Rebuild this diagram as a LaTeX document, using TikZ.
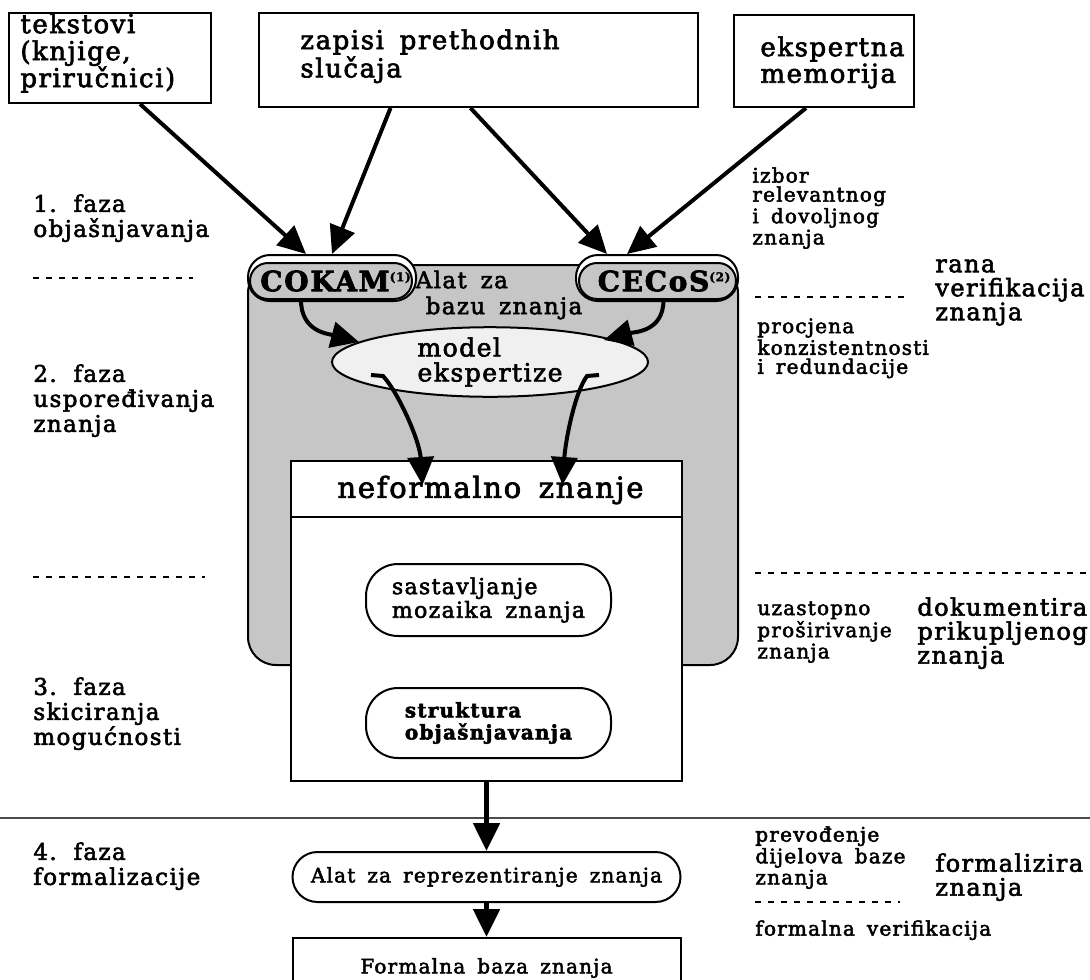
\documentclass[tikz,border=0pt]{standalone}
\usepackage{fontspec}
\setmainfont{DejaVu Serif}[LetterSpace=6,WordSpace=1.6,FakeBold=2.5]
\usetikzlibrary{positioning,calc,arrows.meta,shapes.geometric}

\begin{document}
\begin{tikzpicture}[x=0.5pt, y=-0.5pt,
    box/.style={draw, line width=1pt, inner sep=0pt, anchor=north west},
    pill/.style={draw, line width=1pt, inner sep=0pt, align=left},
    txt/.style={align=left, inner sep=0pt, anchor=north west, font=\fontsize{11.5}{12.5}\selectfont},
    note/.style={txt, font=\fontsize{10}{9.5}\selectfont},
    big/.style={txt, font=\fontsize{12}{12}\selectfont},
    phase/.style={dash pattern=on 3pt off 3.5pt, line width=0.7pt},
    flow/.style={-{Triangle[length=14pt,width=13pt]}, line width=2pt},
    shade/.style={fill=gray!45}]

  \useasboundingbox (0,0) rectangle (1090,979);

  % sources
  \node[box, minimum width=101pt, minimum height=45pt] (tekst) at (8,12) {};
  \node[txt, font=\fontsize{13}{13.5}\selectfont] (tekstT) at (20,13) {tekstovi\\(knjige,\\priručnici)};
  \node[box, minimum width=219.5pt, minimum height=47pt] (zapisi) at (258,12) {};
  \node[txt, font=\fontsize{13}{12}\selectfont] (zapisiT) at (300,29) {zapisi prethodnih\\slučaja};
  \node[box, minimum width=90pt, minimum height=46pt] (ekspert) at (733,14) {};
  \node[txt, font=\fontsize{13}{12}\selectfont] (ekspertT) at (760,36) {ekspertna\\memorija};

  % phases
  \node[txt] (faza1) at (33,194) {1. faza\\objašnjavanja};
  \node[txt] (faza2) at (33,364) {2. faza\\uspoređivanja\\znanja};
  \node[txt] (faza3) at (33,677) {3. faza\\skiciranja\\mogućnosti};
  \node[txt] (faza4) at (33,842) {4. faza\\formalizacije};
  \draw[phase] (33,278) -- (193,278);
  \draw[phase] (33,577) -- (205,577);
  \draw[line width=0.6pt, black!70] (0,818) -- (1090,818);

  % knowledge base tool
  \node[draw, line width=1pt, shade, rounded corners=14pt, minimum width=245pt, minimum height=200pt, anchor=north west] (alat) at (247,264) {};
  \node[draw, line width=1pt, fill=white, rounded corners=11pt, minimum width=84pt, minimum height=23pt, anchor=north west] (cokamtab) at (247,254) {};
  \node[draw, line width=1pt, fill=white, rounded corners=11pt, minimum width=81pt, minimum height=23pt, anchor=north west] (cecostab) at (575,254) {};
  \node[pill, shade, rounded corners=9pt, minimum width=81pt, minimum height=18pt, anchor=north west,
        font=\fontsize{14}{14}\selectfont\bfseries] (cokam) at (249,262)
        {COKAM\rlap{\raisebox{5pt}{\fontsize{6}{6}\selectfont(1)}}\hspace*{6pt}};
  \node[pill, shade, rounded corners=9pt, minimum width=78.5pt, minimum height=18pt, anchor=north west,
        font=\fontsize{14}{14}\selectfont\bfseries] (cecos) at (578,262)
        {CECoS\rlap{\raisebox{5pt}{\fontsize{6}{6}\selectfont(2)}}\hspace*{4pt}};
  \node[align=left, inner sep=0pt, font=\fontsize{11.5}{13}\selectfont] (alatT) at (499,295) {Alat za\\\hspace*{5pt}bazu znanja};
  \node[draw, ellipse, line width=1pt, fill=gray!12, minimum width=158pt, minimum height=30pt, inner sep=0pt,
        align=left, font=\fontsize{12.5}{12.5}\selectfont] (model) at (490,362) {model\\ekspertize};

  % informal knowledge
  \node[box, fill=white, minimum width=195.5pt, minimum height=160pt] (neform) at (290,460) {};
  \draw[line width=1pt] ($(neform.north west)+(0,57)$) -- ($(neform.north east)+(0,57)$);
  \node[inner sep=0pt, font=\fontsize{14.5}{15}\selectfont] (neformT) at ($(neform.north)+(4,30)$) {neformalno znanje};
  \node[pill, rounded corners=16pt, minimum width=122.5pt, minimum height=36pt, anchor=north west,
        font=\fontsize{11}{10.5}\selectfont] (mozaik) at (365,563) {sastavljanje\\mozaika znanja};
  \node[pill, rounded corners=16pt, minimum width=122.5pt, minimum height=35pt, anchor=north west,
        font=\fontsize{10}{11}\selectfont\bfseries] (strukt) at (365,687) {struktura\\objašnjavanja};

  % formalization
  \node[pill, rounded corners=12.5pt, minimum width=194pt, minimum height=25pt, below=34.5pt of neform,
        font=\fontsize{10}{10}\selectfont] (alatrep) {Alat za reprezentiranje znanja};
  \node[box, minimum width=194pt, minimum height=30pt, below=17pt of alatrep,
        font=\fontsize{10}{10}\selectfont] (formal) {Formalna baza znanja};

  % arrows
  \draw[flow] ($(tekst.south)+(30,0)$) -- ($(cokamtab.north)+(-26,0)$);
  \draw[flow] ($(zapisi.south)+(-88,0)$) -- (cokamtab.north);
  \draw[flow] ($(zapisi.south)+(-8,0)$) -- ($(cecostab.north)+(-50,0)$);
  \draw[flow] ($(ekspert.south)+(-18,0)$) -- ($(cecostab.north)+(-30,0)$);
  \draw[flow] ($(cokam.south)+(-30,0)$) .. controls +(0,32) and +(-30,-8) .. ($(model.west)+(28,-20)$);
  \draw[flow] ($(cecos.south)+(6,0)$) .. controls +(0,32) and +(30,-8) .. ($(model.east)+(-45,-22)$);
  \draw[flow] ($(model.west)+(40,13)$) -- ++(12,1) .. controls +(15,16) and +(-3,-45) .. ($(neform.north)+(-64,25)$);
  \draw[flow] ($(model.east)+(-50,13)$) -- ++(-12,1) .. controls +(-12,16) and +(3,-45) .. ($(neform.north)+(76,25)$);
  \draw[flow, line width=2.5pt] (neform) -- (alatrep);
  \draw[flow, line width=2.5pt] (alatrep) -- (formal);

  % right notes
  \node[note] (izbor) at (752,167) {izbor\\relevantnog\\i dovoljnog\\znanja};
  \node[big] (rana) at (935,259) {rana\\verifikacija\\znanja};
  \draw[phase] (755,297) -- (908,297);
  \node[note] (procjena) at (757,318) {procjena\\konzistentnosti\\i redundacije};
  \draw[phase] (755,573) -- (1090,573);
  \node[note] (uzast) at (757,601) {uzastopno\\proširivanje\\znanja};
  \node[big] (dokum) at (917,597) {dokumentira\\prikupljenog\\znanja};
  \node[note] (preved) at (755,826) {prevođenje\\dijelova baze\\znanja};
  \draw[phase] (755,902) -- (900,902);
  \node[note] (verif) at (755,920) {formalna verifikacija};
  \node[big] (formz) at (935,853) {formalizira\\znanja};
\end{tikzpicture}
\end{document}
